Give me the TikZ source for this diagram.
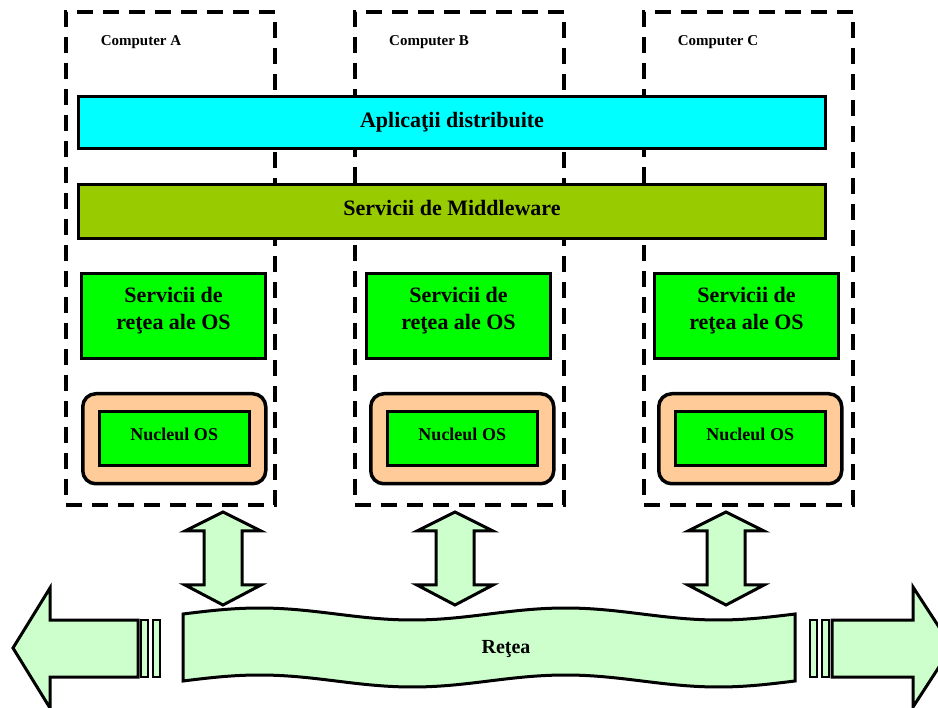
\documentclass[tikz,border=0pt]{standalone}
\usepackage{fontspec}
\setmainfont{Liberation Serif}
\definecolor{appcyan}{HTML}{00FFFF}
\definecolor{mwolive}{HTML}{99CC00}
\definecolor{osgreen}{HTML}{00FF00}
\definecolor{kernelorange}{HTML}{FFCC99}
\definecolor{netgreen}{HTML}{CCFFCC}
\begin{document}
\begin{tikzpicture}[x=1pt,y=-1pt,
  machine/.style={draw, line width=3.6pt, dash pattern=on 16pt off 10pt,
    inner sep=0pt, anchor=north west, minimum width=209pt, minimum height=493pt},
  complabel/.style={font=\fontsize{15}{18}\selectfont\bfseries},
  layerbar/.style={draw, line width=3pt, inner sep=0pt, anchor=north west,
    minimum width=747pt, font=\fontsize{22}{26}\selectfont\bfseries},
  netsvc/.style={draw, line width=3pt, fill=osgreen, inner sep=0pt, anchor=north west,
    minimum width=184pt, minimum height=85pt, align=center, text depth=15pt,
    font=\fontsize{22}{27}\selectfont\bfseries},
  kernel/.style={draw, line width=3.5pt, fill=kernelorange, rounded corners=13pt,
    inner sep=0pt, anchor=north west, minimum width=183pt, minimum height=90pt},
  kernelcore/.style={draw, line width=3pt, fill=osgreen, inner sep=0pt,
    minimum width=150pt, minimum height=54pt, text depth=9pt,
    font=\fontsize{18}{22}\selectfont\bfseries},
  blockarrow/.style={draw, line width=3pt, fill=netgreen, line join=miter},
  stripe/.style={draw, line width=2.5pt, fill=netgreen}
]
\clip (0,0) rectangle (938,708);

% computers (dashed frames)
\node[machine] (compA) at (64,10) {};
\node[machine] (compB) at (353,10) {};
\node[machine] (compC) at (642,10) {};
\node[complabel] (labA) at (141,42) {Computer A};
\node[complabel] (labB) at (429,42) {Computer B};
\node[complabel] (labC) at (718,42) {Computer C};

% shared layers
\node[layerbar, fill=appcyan, minimum height=52pt] (apps) at (77,95) {Aplicaţii distribuite};
\node[layerbar, fill=mwolive, minimum height=54pt, text depth=8pt] (mw) at (77,183) {Servicii de Middleware};

% per-computer OS services and kernel
\node[netsvc] (netA) at (80,272) {Servicii de\\reţea ale OS};
\node[netsvc] (netB) at (365,272) {Servicii de\\reţea ale OS};
\node[netsvc] (netC) at (653,272) {Servicii de\\reţea ale OS};

\node[kernel] (kerA) at (81,392) {};
\node[kernel] (kerB) at (369,392) {};
\node[kernel] (kerC) at (657,392) {};
\node[kernelcore] (coreA) at (kerA.center) {Nucleul OS};
\node[kernelcore] (coreB) at (kerB.center) {Nucleul OS};
\node[kernelcore] (coreC) at (kerC.center) {Nucleul OS};

% network banner (double wave, two periods of 306pt)
\draw[blockarrow]
  plot[domain=183:795, samples=120] (\x,{614-6*sin(1.17647*(\x-183))})
  -- plot[domain=795:183, samples=120] (\x,{681-6*sin(1.17647*(\x-183))})
  -- cycle;
\node[font=\fontsize{20}{24}\selectfont\bfseries] (net) at (506,649) {Reţea};

% links between computers and network
\foreach \c in {223,455,726}{
  \draw[blockarrow] (\c,512) -- ++(-38,19) -- ++(19,0) -- ++(0,54) -- ++(-19,0)
    -- ++(38,20) -- ++(38,-20) -- ++(-19,0) -- ++(0,-54) -- ++(19,0) -- cycle;
}

% network extends to the left
\draw[blockarrow] (13,648) -- (50,588) -- (50,620) -- (138,620) -- (138,677)
  -- (50,677) -- (50,708) -- cycle;
\draw[stripe] (141,620) rectangle (148,677);
\draw[stripe] (153,620) rectangle (160,677);

% network extends to the right
\draw[stripe] (810,620) rectangle (817,677);
\draw[stripe] (822,620) rectangle (829,677);
\draw[blockarrow] (832,620) -- (913,620) -- (913,587) -- (952,647) -- (913,707)
  -- (913,677) -- (832,677) -- cycle;
\end{tikzpicture}
\end{document}
